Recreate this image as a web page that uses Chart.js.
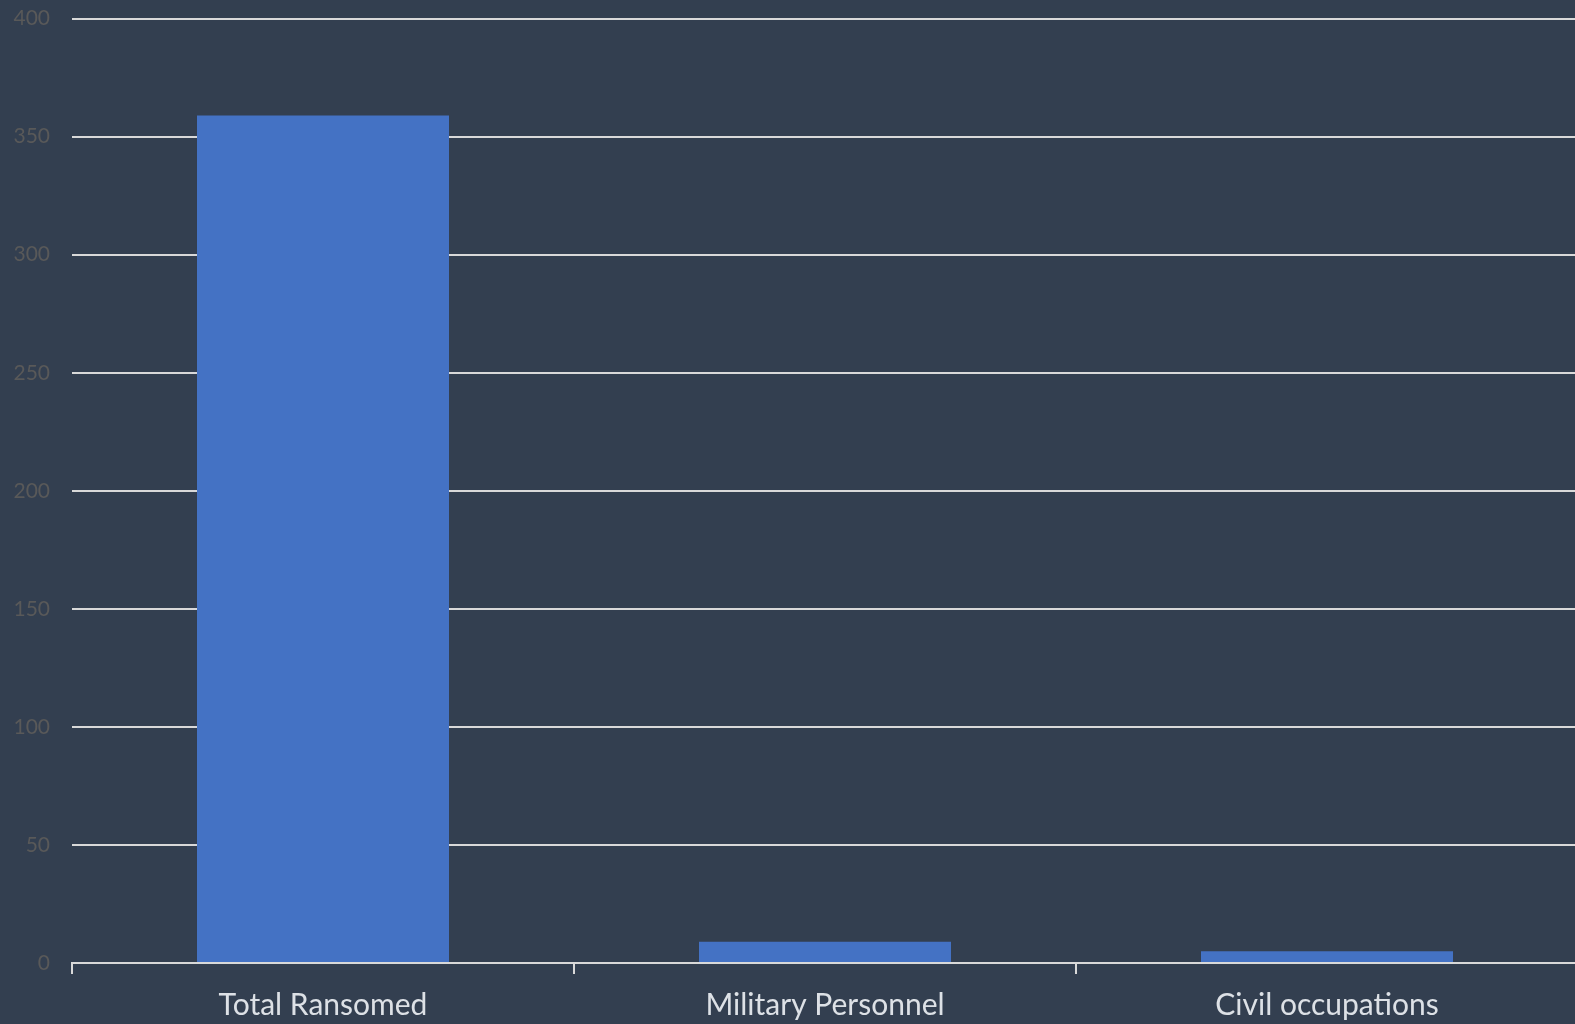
<!DOCTYPE html>
<html>
<head>
<meta charset="utf-8">
<script src="https://cdn.jsdelivr.net/npm/chart.js@4.4.1/dist/chart.umd.min.js"></script>
<style>
    html, body { margin: 0; padding: 0; background: #333F50; overflow: hidden; }
    #wrap { width: 1578px; height: 1024px; overflow: hidden; }
    #chart { display: block; margin-top: -16px; }
</style>
</head>
<body>
<div id="wrap"><canvas id="chart" width="1578" height="1040"></canvas></div>
<script>
// Chart data
const categories = ['Total Ransomed', 'Military Personnel', 'Civil occupations'];
const ransomedCounts = [359, 9, 5];
const yTicks = [0, 50, 100, 150, 200, 250, 300, 350, 400];

const gridColor = '#d9d9d9';
const barColor = '#4472C4';

const ctx = document.getElementById('chart').getContext('2d');

new Chart(ctx, {
    type: 'bar',
    data: {
        labels: categories,
        datasets: [{
            label: 'Count',
            data: ransomedCounts,
            backgroundColor: barColor,
            borderWidth: 0,
            barPercentage: 0.502,
            categoryPercentage: 1.0
        }]
    },
    options: {
        responsive: false,
        animation: false,
        layout: { padding: { top: 1, right: 0, left: 0, bottom: 0 } },
        plugins: {
            legend: { display: false },
            tooltip: { enabled: false }
        },
        scales: {
            x: {
                offset: true,
                grid: {
                    offset: true,
                    drawOnChartArea: false,
                    drawTicks: true,
                    tickLength: 11,
                    color: gridColor,
                    lineWidth: 2
                },
                border: { color: gridColor, width: 2 },
                ticks: {
                    color: '#dde1e6',
                    font: { family: 'Lato', size: 30 },
                    padding: 13
                },
                afterFit: (scale) => { scale.height = 61; }
            },
            y: {
                min: 0,
                max: 400,
                afterBuildTicks: (scale) => {
                    scale.ticks = yTicks.map(v => ({ value: v }));
                },
                grid: {
                    color: gridColor,
                    lineWidth: 2,
                    drawTicks: false
                },
                border: { display: false },
                ticks: {
                    color: '#595959',
                    font: { family: 'Lato', size: 21 },
                    padding: 22
                },
                afterFit: (scale) => { scale.width = 72; }
            }
        }
    }
});
</script>
</body>
</html>
